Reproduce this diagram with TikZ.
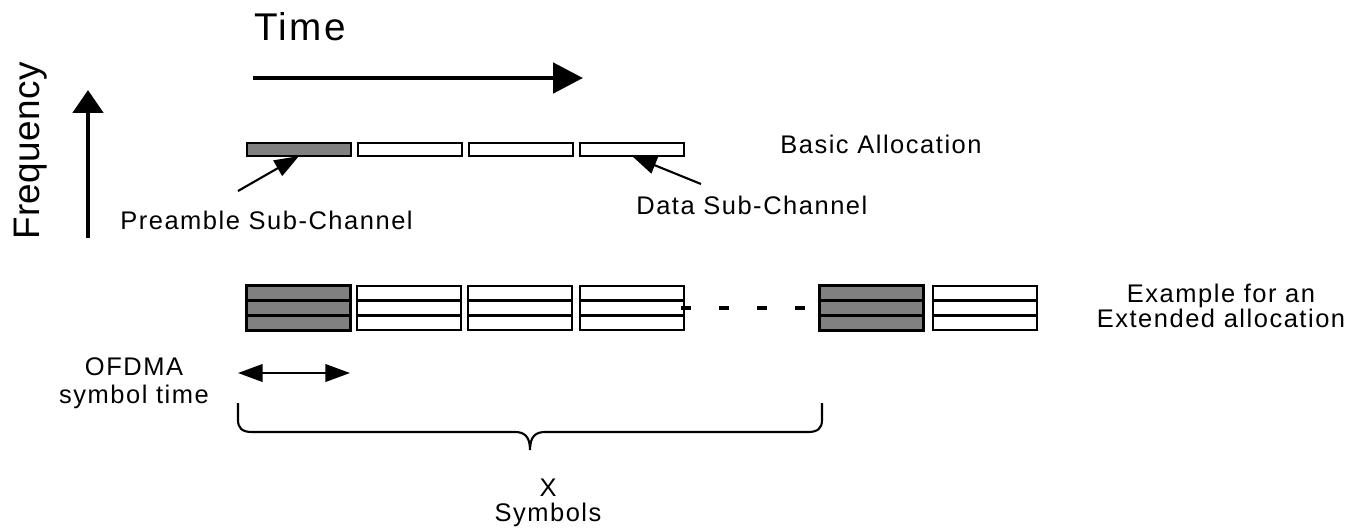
\documentclass[tikz,border=0pt]{standalone}
\usepackage{fontspec}
\setmainfont{Liberation Sans}[LetterSpace=6]
\newfontfamily\timefont{Liberation Sans}[LetterSpace=6]
\newfontfamily\freqfont{Liberation Sans}[LetterSpace=1]
\usetikzlibrary{arrows.meta}

\begin{document}
\begin{tikzpicture}[x=0.02cm, y=-0.02cm,
  slot/.style={draw, line width=1.4pt, fill=white, inner sep=0pt, outer sep=0pt, minimum width=2.08cm, minimum height=0.26cm},
  pslot/.style={slot, fill=gray},
  eslot/.style={slot, minimum height=0.28cm},
  epslot/.style={slot, fill=gray, minimum height=0.3cm},
  lbl/.style={inner sep=0pt, font=\fontsize{14.5pt}{14.5pt}\selectfont},
  ptr/.style={line width=1.2pt, -{Triangle[length=14pt, width=10pt]}}]
\useasboundingbox (0,0) rectangle (1352,529);
% axes
\node[inner sep=0pt, anchor=base west, font=\timefont\fontsize{22pt}{22pt}\selectfont] (tm) at (254,40) {Time};
\coordinate (t0) at (253,78);
\coordinate (t1) at (583,78);
\draw[line width=2.8pt, -{Triangle[length=17pt, width=17pt]}] (t0) -- (t1);
\node[rotate=90, inner sep=0pt, anchor=base west, font=\freqfont\fontsize{21pt}{21pt}\selectfont] (fq) at (39,240) {Frequency};
\coordinate (f0) at (88,238);
\coordinate (f1) at (88,90);
\draw[line width=2.8pt, -{Triangle[length=13pt, width=17pt]}] (f0) -- (f1);
% basic allocation
\node[pslot] (ba0) at (299,149.5){};
\node[slot] (ba1) at (410,149.5){};
\node[slot] (ba2) at (521,149.5){};
\node[slot] (ba3) at (632,149.5){};
\node[lbl, anchor=base west] (bas) at (780,153) {Basic Allocation};
\node[lbl, anchor=base west] (pre) at (120,229) {Preamble Sub-Channel};
\node[lbl, anchor=base west] (dat) at (636,214) {Data Sub-Channel};
\coordinate (pt) at (238,191);
\coordinate (dt) at (701,184);
\draw[ptr] (pt) -- (ba0.south);
\draw[ptr] (dt) -- (ba3.south);
% extended allocation
\node[epslot] (ex00) at (298.5,293){};
\node[epslot] (ex01) at (298.5,308){};
\node[epslot] (ex02) at (298.5,323){};
\node[eslot] (ex10) at (409,293){};
\node[eslot] (ex11) at (409,308){};
\node[eslot] (ex12) at (409,323){};
\node[eslot] (ex20) at (520,293){};
\node[eslot] (ex21) at (520,308){};
\node[eslot] (ex22) at (520,323){};
\node[eslot] (ex30) at (632,293){};
\node[eslot] (ex31) at (632,308){};
\node[eslot] (ex32) at (632,323){};
\node[epslot] (ex40) at (871.5,293){};
\node[epslot] (ex41) at (871.5,308){};
\node[epslot] (ex42) at (871.5,323){};
\node[eslot] (ex50) at (985,293){};
\node[eslot] (ex51) at (985,308){};
\node[eslot] (ex52) at (985,323){};
\draw[line width=2.3pt, dash pattern=on 5.7pt off 15.9pt] ([xshift=-0.06cm]ex31.east) -- (ex41.west);
\node[lbl, align=center] (exl) at (1221,306) {Example for an\\Extended allocation};
% symbol time and brace
\node[lbl, align=center] (ofd) at (134,383) {OFDMA\\[1.7pt]symbol time};
\coordinate (s0) at (238,373);
\coordinate (s1) at (350,373);
\draw[line width=1.2pt, {Triangle[length=14pt, width=10pt]}-{Triangle[length=14pt, width=10pt]}] (s0) -- (s1);
\coordinate (bl) at (238,403);
\coordinate (bm) at (530,450);
\coordinate (br) at (822,403);
\draw[line width=1.2pt] (bl) -- (238,420) .. controls (238,428) and (242,432) .. (252,432) -- (515,432) .. controls (524,432) and (530,436) .. (bm) .. controls (530,436) and (536,432) .. (545,432) -- (808,432) .. controls (818,432) and (822,428) .. (822,420) -- (br);
\node[lbl, align=center] (xs) at (548,503) {X\\Symbols};
\end{tikzpicture}
\end{document}
